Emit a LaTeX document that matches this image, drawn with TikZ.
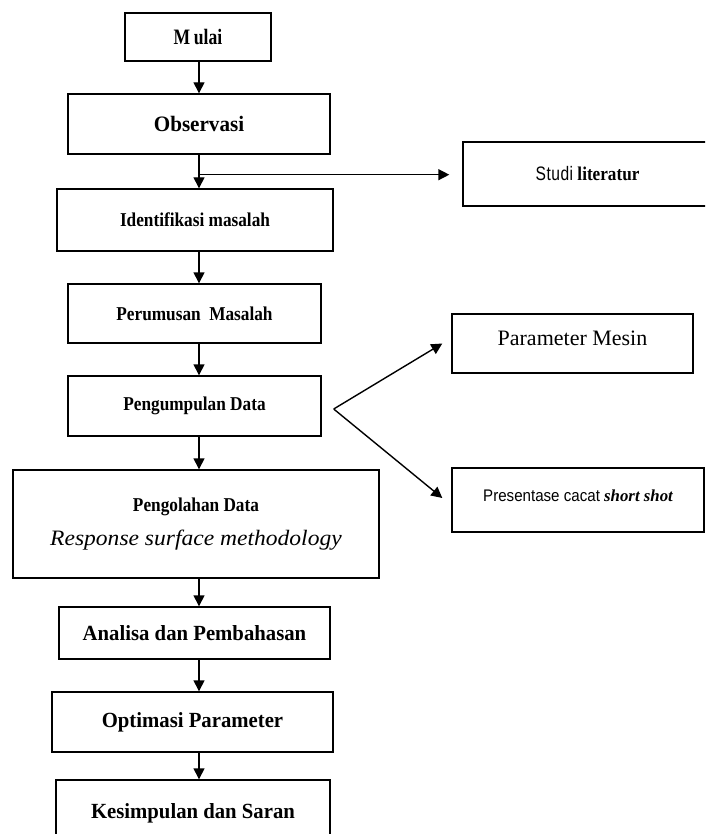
\documentclass[tikz,border=0pt]{standalone}
\usepackage{fontspec}
\setmainfont{Liberation Serif}
\newfontfamily\serx[FakeStretch=0.80]{Liberation Serif}
\newfontfamily\serc[FakeStretch=0.88]{Liberation Serif}
\newfontfamily\sers[FakeStretch=0.96]{Liberation Serif}
\newfontfamily\serw[FakeStretch=1.07]{Liberation Serif}
\newfontfamily\sansc[FakeStretch=0.80]{Liberation Sans}
\newfontfamily\sansn[FakeStretch=0.90]{Liberation Sans}
\usetikzlibrary{arrows.meta}
\tikzset{
  box/.style={draw, line width=1.4pt, rectangle, inner sep=0pt, align=center},
  arr/.style={line width=1.4pt, -{Triangle[length=11pt,width=11pt]}},
}
\begin{document}
\begin{tikzpicture}[x=1pt,y=-1pt]
\useasboundingbox (0,0) rectangle (705,834);
\clip (0,0) rectangle (705,834);
\coordinate (axis) at (199,0);
% main chain
\node[box, minimum width=146pt, minimum height=48pt] (mulai) at (198,37)
  {\fontsize{22}{26}\selectfont\serx\bfseries M\,ulai};
\node[box, minimum width=262pt, minimum height=60pt] (obs) at (199,124)
  {\fontsize{22}{26}\selectfont\sers\bfseries Observasi};
\node[box, minimum width=276pt, minimum height=62pt] (ident) at (195,220)
  {\fontsize{19.6}{24}\selectfont\serc\bfseries Identifikasi masalah};
\node[box, minimum width=253pt, minimum height=59pt] (perum) at (194.5,313.5)
  {\fontsize{19.6}{24}\selectfont\serc\bfseries Perumusan\ \ Masalah};
\node[box, minimum width=253pt, minimum height=60pt] (pengum) at (194.5,406)
  {\fontsize{19.6}{24}\selectfont\serc\bfseries Pengumpulan Data};
\node[box, minimum width=366pt, minimum height=108pt] (pengol) at (196,524)
  {\fontsize{19.6}{24}\selectfont\serc\bfseries Pengolahan Data\\[14pt]
   \fontsize{22}{26}\selectfont\serw\itshape Response surface methodology};
\node[box, minimum width=271pt, minimum height=52pt] (analisa) at (194.5,633)
  {\fontsize{21.6}{26}\selectfont\sers\bfseries Analisa dan Pembahasan};
\node[box, minimum width=281pt, minimum height=60pt] (optim) at (192.5,722)
  {\fontsize{21.6}{26}\selectfont\sers\bfseries Optimasi Parameter};
\node[box, minimum width=274pt, minimum height=70pt, text depth=8pt] (kesim) at (193,815)
  {\fontsize{21.6}{26}\selectfont\sers\bfseries Kesimpulan dan Saran};
% side boxes
\node[box, minimum width=249pt, minimum height=64pt] (studi) at (587.5,174)
  {\fontsize{19.5}{24}\selectfont\sansc S\kern0.5pt t\kern0.5pt u\kern0.5pt d\kern0.5pt i {\serc\bfseries literatur}};
\node[box, minimum width=241pt, minimum height=59pt, text depth=10pt] (param) at (572.5,343.5)
  {\fontsize{22}{26}\selectfont Parameter Mesin};
\node[box, minimum width=252pt, minimum height=64pt, text depth=8pt] (pres) at (578,500)
  {\fontsize{16.8}{20}\selectfont\sansn Presentase cacat {\rmfamily\bfseries\itshape short shot}};
% connectors
\draw[arr] (mulai.south -| axis) -- (obs.north -| axis);
\draw[arr] (obs.south -| axis) -- (ident.north -| axis);
\coordinate (j) at (obs.south -| axis);
\coordinate (jj) at ([yshift=-20pt]j);
\draw[arr, shorten >=13pt] (jj) -- (jj -| studi.west);
\draw[arr] (ident.south -| axis) -- (perum.north -| axis);
\draw[arr] (perum.south -| axis) -- (pengum.north -| axis);
\draw[arr] (pengum.south -| axis) -- (pengol.north -| axis);
\draw[arr] (pengol.south -| axis) -- (analisa.north -| axis);
\draw[arr] (analisa.south -| axis) -- (optim.north -| axis);
\draw[arr] (optim.south -| axis) -- (kesim.north -| axis);
% fork
\coordinate (fork) at ([xshift=12pt,yshift=-3pt]pengum.east);
\coordinate (ptip) at ([xshift=-9pt]param.west);
\coordinate (stip) at ([xshift=-9pt,yshift=2pt]pres.west);
\draw[arr] (fork) -- (ptip);
\draw[arr] (fork) -- (stip);
\end{tikzpicture}
\end{document}
